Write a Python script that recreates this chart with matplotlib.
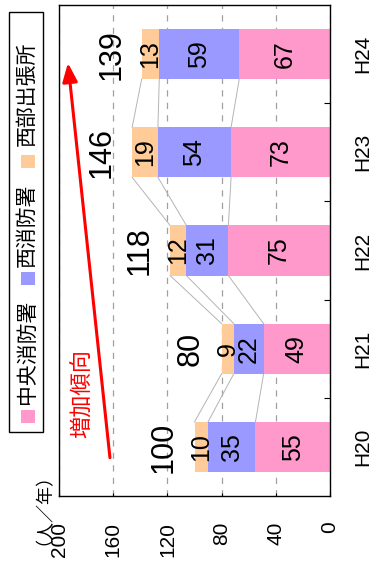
import matplotlib
matplotlib.use('Agg')
import matplotlib.pyplot as plt
import numpy as np
from matplotlib import font_manager
from matplotlib.patches import Rectangle

# 救急出場件数 (人/年) by station
years = ['H20', 'H21', 'H22', 'H23', 'H24']
chuo = [55, 49, 75, 73, 67]        # 中央消防署
nishi = [35, 22, 31, 54, 59]       # 西消防署
seibu = [10, 9, 12, 19, 13]        # 西部出張所
totals = [100, 80, 118, 146, 139]

series_names = ['中央消防署', '西消防署', '西部出張所']
series_colors = ['#FF99CC', '#9999FF', '#FFCC99']
value_ticks = [0, 40, 80, 120, 160, 200]

names = {f.name for f in font_manager.fontManager.ttflist}
num_font = 'Liberation Sans Narrow' if 'Liberation Sans Narrow' in names else 'Liberation Sans'
jp_font = ['Noto Sans CJK JP', 'DejaVu Sans']

W, H = 372, 561
fig = plt.figure(figsize=(W / 100, H / 100), dpi=100)
ax = fig.add_axes([59 / W, 1 - 496 / H, (330 - 59) / W, (496 - 5) / H])

pos = np.arange(len(years))
bar_h = 0.51
stack = [chuo, nishi, seibu]
left = np.zeros(len(years))
bounds = []
for vals, col in zip(stack, series_colors):
    vals = np.array(vals, dtype=float)
    ax.barh(pos, vals, height=bar_h, left=left, color=col, zorder=2)
    for y, l, v in zip(pos, left, vals):
        ax.text(l + v / 2, y, str(int(v)), rotation=90, ha='center', va='center',
                fontsize=18, family=num_font, zorder=4)
    left = left + vals
    bounds.append(left.copy())

# series lines between neighbouring bars
for b in bounds:
    for i in range(len(years) - 1):
        ax.plot([b[i], b[i + 1]], [pos[i] + bar_h / 2, pos[i + 1] - bar_h / 2],
                color='#b4b4b4', lw=0.7, zorder=1)

# totals
for y, t in zip(pos, totals):
    ax.text(t + 22.5, y, str(t), rotation=90, ha='center', va='center',
            fontsize=22, family=num_font)

ax.set_xlim(200, 0)
ax.set_ylim(-0.5, len(years) - 0.5)

ax.set_xticks(value_ticks)
ax.set_xticklabels([str(v) for v in value_ticks], rotation=90, family=num_font, fontsize=15)
ax.tick_params(axis='x', direction='in', length=2.5, width=0.8, pad=18.5)
ax.xaxis.grid(True, color='#a0a0a0', linestyle=(0, (5, 5)), lw=0.9)
ax.set_axisbelow(True)

ax.yaxis.set_ticks_position('right')
ax.set_yticks(pos)
ax.set_yticklabels(years, rotation=90, family=num_font, fontsize=15, va='center')
ax.set_yticks(pos[:-1] + 0.5, minor=True)
ax.tick_params(axis='y', which='major', length=0, pad=16.5)
ax.tick_params(axis='y', which='minor', direction='in', length=4.3, width=0.8)
for s in ax.spines.values():
    s.set_linewidth(1.0)

# upward trend arrow
ax.annotate('', xy=(193.4, 3.91), xytext=(162.4, -0.11),
            arrowprops=dict(arrowstyle='-|>,head_length=0.75,head_width=0.3',
                            mutation_scale=15, color='red', lw=2.2,
                            shrinkA=0, shrinkB=0))
fig.text(82 / W, 1 - 394 / H, '増加傾向', rotation=90, ha='center', va='center',
         color='red', fontsize=16, family=jp_font)

# unit label
fig.text(35 / W, 1 - 500 / H, '（人／年）', rotation=90, ha='center', va='center',
         fontsize=13, family=jp_font)

# legend box drawn vertically
fig.patches.append(Rectangle((9 / W, 1 - 432 / H), 34 / W, 420 / H, transform=fig.transFigure,
                             facecolor='white', edgecolor='black', lw=1.0))
patch_centers = [416.5, 278.5, 161.5]
text_centers = [351.5, 225, 94]
for name, col, pc, tc in zip(series_names, series_colors, patch_centers, text_centers):
    fig.patches.append(Rectangle((21 / W, 1 - (pc + 6.5) / H), 14 / W, 13 / H,
                                 transform=fig.transFigure, facecolor=col, edgecolor='none'))
    fig.text(27 / W, 1 - tc / H, name, rotation=90, ha='center', va='center',
             fontsize=15, family=jp_font)

fig.savefig('out.png', dpi=100)
